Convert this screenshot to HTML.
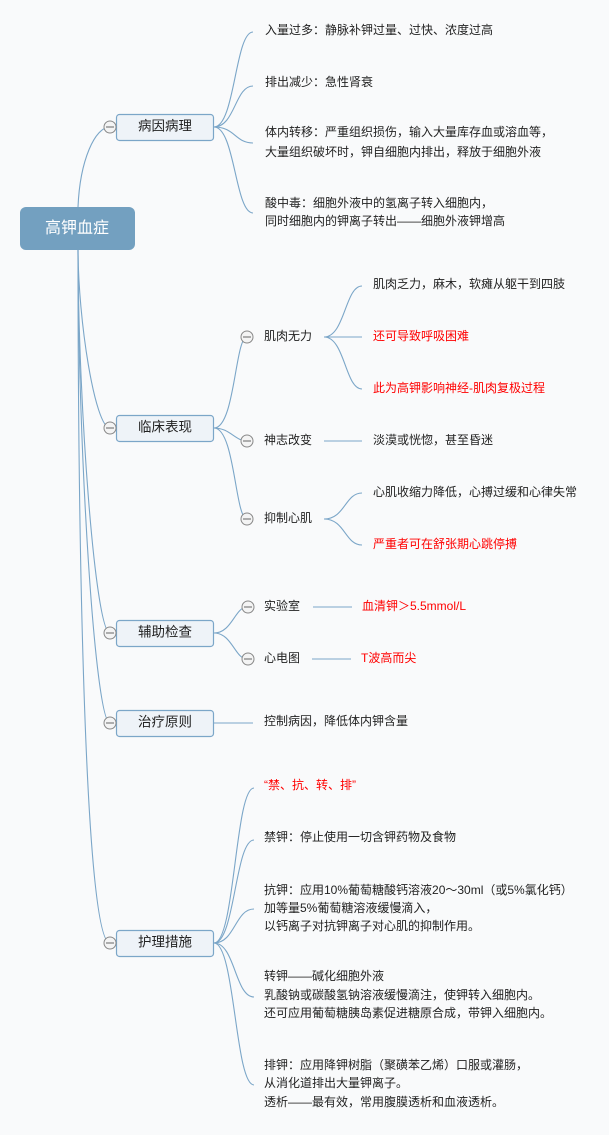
<!DOCTYPE html>
<html><head><meta charset="utf-8"><style>
html,body{margin:0;padding:0;background:#f9fafb;}
svg{display:block}
text{font-family:"Liberation Sans","Noto Sans CJK SC",sans-serif;font-size:12px;fill:#222;dominant-baseline:middle}
.r{fill:#f00}
.l{fill:none;stroke:#7ba6c8;stroke-width:1.1}
.b{fill:#eef3f8;stroke:#7ba6c8;stroke-width:1.2}
.c{fill:#f4f4f4;stroke:#888;stroke-width:1}
.h{font-size:13.5px;text-anchor:middle}
</style></head><body>
<svg width="609" height="1135" viewBox="0 0 609 1135">
<path class="l" d="M78 207 C80 160,95 127,110 127"/>
<path class="l" d="M78 248 C78 320,95 428,110 428"/>
<path class="l" d="M78 248 C78 400,95 633,110 633"/>
<path class="l" d="M78 248 C78 450,95 723,110 723"/>
<path class="l" d="M78 248 C78 550,85 943,110 943"/>
<rect x="20" y="207" width="115" height="43" rx="6" fill="#73a0c0"/>
<text x="77" y="229" class="h" style="fill:#fff;font-size:16px">高钾血症</text>

<g>
<rect class="b" x="116.5" y="114.5" width="97" height="26" rx="3"/><text class="h" x="165" y="127">病因病理</text>
<rect class="b" x="116.5" y="415.5" width="97" height="26" rx="3"/><text class="h" x="165" y="428">临床表现</text>
<rect class="b" x="116.5" y="620.5" width="97" height="26" rx="3"/><text class="h" x="165" y="633">辅助检查</text>
<rect class="b" x="116.5" y="710.5" width="97" height="26" rx="3"/><text class="h" x="165" y="723">治疗原则</text>
<rect class="b" x="116.5" y="930.5" width="97" height="26" rx="3"/><text class="h" x="165" y="943">护理措施</text>
</g>
<g>
<circle class="c" cx="110" cy="127" r="6"/><circle class="c" cx="110" cy="428" r="6"/><circle class="c" cx="110" cy="633" r="6"/><circle class="c" cx="110" cy="723" r="6"/><circle class="c" cx="110" cy="943" r="6"/>
<path d="M106 127h8M106 428h8M106 633h8M106 723h8M106 943h8" stroke="#666" stroke-width="1"/>
</g>

<path class="l" d="M214 127 C235 127,235 32,253 32"/>
<path class="l" d="M214 127 C235 127,235 86,253 86"/>
<path class="l" d="M214 127 C235 127,235 143,253 143"/>
<path class="l" d="M214 127 C235 127,235 213,253 213"/>
<text x="265" y="31">入量过多：静脉补钾过量、过快、浓度过高</text>
<text x="265" y="83">排出减少：急性肾衰</text>
<text x="265" y="133">体内转移：严重组织损伤，输入大量库存血或溶血等，</text>
<text x="265" y="153">大量组织破坏时，钾自细胞内排出，释放于细胞外液</text>
<text x="265" y="204">酸中毒：细胞外液中的氢离子转入细胞内，</text>
<text x="265" y="222">同时细胞内的钾离子转出——细胞外液钾增高</text>

<path class="l" d="M214 428 C235 428,235 337,247 337"/>
<path class="l" d="M214 428 C230 428,235 441,247 441"/>
<path class="l" d="M214 428 C235 428,235 519,247 519"/>
<circle class="c" cx="247" cy="337" r="6"/><circle class="c" cx="247" cy="441" r="6"/><circle class="c" cx="247" cy="519" r="6"/>
<path d="M243 337h8M243 441h8M243 519h8" stroke="#666"/>
<text x="264" y="337">肌肉无力</text>
<text x="264" y="441">神志改变</text>
<text x="264" y="519">抑制心肌</text>
<path class="l" d="M324 337 C345 337,345 286,362 286"/>
<path class="l" d="M324 337 H362"/>
<path class="l" d="M324 337 C345 337,345 389,362 389"/>
<path class="l" d="M324 441 H362"/>
<path class="l" d="M324 519 C345 519,345 493,362 493"/>
<path class="l" d="M324 519 C345 519,345 545,362 545"/>
<text x="373" y="285">肌肉乏力，麻木，软瘫从躯干到四肢</text>
<text x="373" y="337" class="r">还可导致呼吸困难</text>
<text x="373" y="389" class="r">此为高钾影响神经-肌肉复极过程</text>
<text x="373" y="441">淡漠或恍惚，甚至昏迷</text>
<text x="373" y="493">心肌收缩力降低，心搏过缓和心律失常</text>
<text x="373" y="545" class="r">严重者可在舒张期心跳停搏</text>

<path class="l" d="M214 633 C232 633,235 607,247 607"/>
<path class="l" d="M214 633 C232 633,235 659,247 659"/>
<circle class="c" cx="248" cy="607" r="6"/><circle class="c" cx="248" cy="659" r="6"/>
<path d="M244 607h8M244 659h8" stroke="#666"/>
<text x="264" y="607">实验室</text>
<text x="264" y="659">心电图</text>
<path class="l" d="M313 607 H352M312 659 H351"/>
<text x="362" y="607" class="r">血清钾＞5.5mmol/L</text>
<text x="361" y="659" class="r">T波高而尖</text>

<path class="l" d="M214 723 H253"/>
<text x="264" y="722">控制病因，降低体内钾含量</text>

<path class="l" d="M214 943 C235 943,235 788,254 788"/>
<path class="l" d="M214 943 C235 943,235 840,254 840"/>
<path class="l" d="M214 943 C235 943,235 909,254 909"/>
<path class="l" d="M214 943 C235 943,235 997,254 997"/>
<path class="l" d="M214 943 C235 943,235 1085,254 1085"/>
<text x="264" y="786" class="r">“禁、抗、转、排”</text>
<text x="264" y="838">禁钾：停止使用一切含钾药物及食物</text>
<text x="264" y="891">抗钾：应用10%葡萄糖酸钙溶液20～30ml（或5%氯化钙）</text>
<text x="264" y="909">加等量5%葡萄糖溶液缓慢滴入，</text>
<text x="264" y="927">以钙离子对抗钾离子对心肌的抑制作用。</text>
<text x="264" y="977">转钾——碱化细胞外液</text>
<text x="264" y="996">乳酸钠或碳酸氢钠溶液缓慢滴注，使钾转入细胞内。</text>
<text x="264" y="1014">还可应用葡萄糖胰岛素促进糖原合成，带钾入细胞内。</text>
<text x="264" y="1066">排钾：应用降钾树脂（聚磺苯乙烯）口服或灌肠，</text>
<text x="264" y="1084">从消化道排出大量钾离子。</text>
<text x="264" y="1103">透析——最有效，常用腹膜透析和血液透析。</text>
</svg>
</body></html>
